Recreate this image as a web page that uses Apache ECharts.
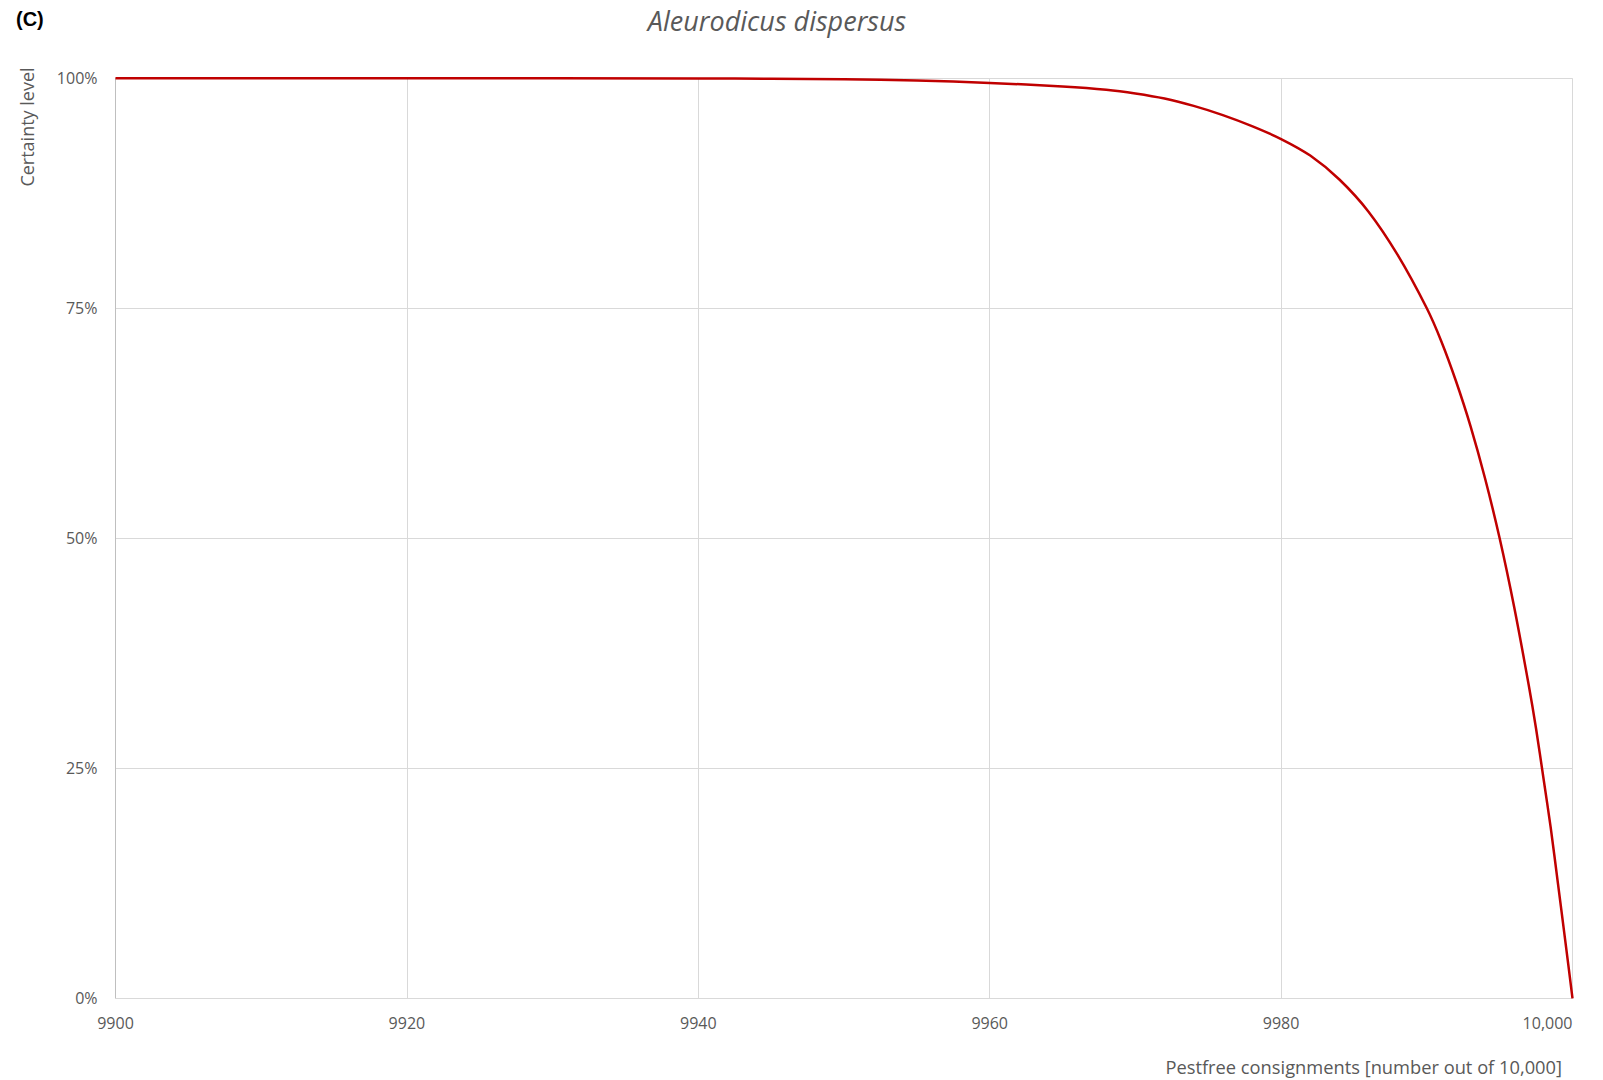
<!DOCTYPE html>
<html>
<head>
<meta charset="utf-8">
<script src="https://cdn.jsdelivr.net/npm/echarts@6/dist/echarts.min.js"></script>
<style>
html,body{margin:0;padding:0;background:#fff;}
#chart{width:1603px;height:1080px;}
</style>
</head>
<body>
<div id="chart"></div>
<script>
// Data
var pestfree = [9900, 9920, 9940, 9945, 9950, 9955, 9960, 9965, 9968, 9970, 9972, 9974, 9976, 9978,
  9980, 9982, 9984, 9986, 9988, 9990, 9991, 9992, 9993, 9994, 9995, 9996, 9997, 9997.5, 9998,
  9998.5, 9999, 9999.5, 10000];
var certainty = [100, 100, 99.98, 99.95, 99.9, 99.75, 99.5, 99.1, 98.75, 98.35, 97.8, 97.0, 96.0, 94.8,
  93.4, 91.6, 89.0, 85.5, 80.8, 75.0, 71.4, 67.1, 62.2, 56.5, 50.0, 42.5, 34.0, 29.3, 24.0,
  18.6, 12.5, 6.3, 0];
var yTicks = [0, 25, 50, 75, 100];
var xTicks = [9900, 9920, 9940, 9960, 9980, 10000];
var chartTitle = 'Aleurodicus dispersus';
var panelLabel = '(C)';
var xName = 'Pestfree consignments [number out of 10,000]';
var yName = 'Certainty level';

var font = '"Open Sans", "Noto Sans", sans-serif';
var chart = echarts.init(document.getElementById('chart'), null, {renderer: 'svg'});
var seriesData = pestfree.map(function (x, i) { return [x, certainty[i]]; });

chart.setOption({
  animation: false,
  backgroundColor: '#ffffff',
  grid: {left: 115.5, right: 30.5, top: 78.3, bottom: 81.7, containLabel: false},
  xAxis: {
    type: 'value',
    min: xTicks[0],
    max: xTicks[xTicks.length - 1],
    interval: 20,
    axisLine: {show: true, lineStyle: {color: '#d9d9d9', width: 1}},
    axisTick: {show: false},
    splitLine: {show: true, lineStyle: {color: '#d9d9d9', width: 1}},
    axisLabel: {
      color: '#595959', fontFamily: font, fontSize: 16, margin: 17,
      alignMaxLabel: 'right',
      formatter: function (v) { return v >= 10000 ? v.toLocaleString('en-US') : String(v); }
    }
  },
  yAxis: {
    type: 'value',
    min: yTicks[0],
    max: yTicks[yTicks.length - 1],
    interval: 25,
    axisLine: {show: true, lineStyle: {color: '#bfbfbf', width: 1}},
    axisTick: {show: false},
    splitLine: {show: true, lineStyle: {color: '#d9d9d9', width: 1}},
    axisLabel: {color: '#595959', fontFamily: font, fontSize: 16, margin: 18, formatter: '{value}%'}
  },
  series: [{
    type: 'line',
    data: seriesData,
    smooth: 0.3,
    showSymbol: false,
    lineStyle: {color: '#c00000', width: 2.5},
    z: 5
  }],
  graphic: [
    {type: 'text', left: 16, top: 9, style: {text: panelLabel, fill: '#000', font: 'bold 20px "Liberation Sans", Arial, sans-serif'}},
    {type: 'text', x: 777, y: 20, style: {text: chartTitle, fill: '#595959', font: 'italic 27px ' + font, textAlign: 'center', textVerticalAlign: 'middle'}},
    {type: 'text', x: 1562, y: 1066, style: {text: xName, fill: '#595959', font: '18.3px ' + font, textAlign: 'right', textVerticalAlign: 'middle'}},
    {type: 'text', x: 27, y: 127, rotation: Math.PI / 2, style: {text: yName, fill: '#595959', font: '18px ' + font, textAlign: 'center', textVerticalAlign: 'middle'}}
  ]
});
</script>
</body>
</html>
